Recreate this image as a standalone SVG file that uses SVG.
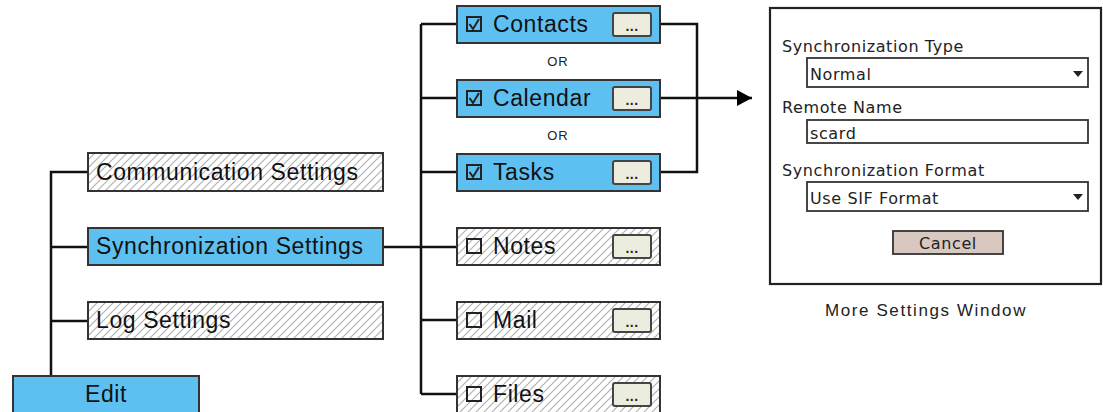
<svg xmlns="http://www.w3.org/2000/svg" width="1103" height="412" viewBox="0 0 1103 412">
<defs>
<pattern id="hatch" patternUnits="userSpaceOnUse" width="8" height="8">
<rect width="8" height="8" fill="#fff"/>
<path d="M-2,2 L2,-2 M0,8 L8,0 M6,10 L10,6" stroke="#b2b2b2" stroke-width="1.2"/>
</pattern>
<marker id="arrow" markerWidth="16" markerHeight="16" refX="15" refY="8" orient="auto" markerUnits="userSpaceOnUse" viewBox="0 0 16 16">
<path d="M0,0 L15,8 L0,16 Z" fill="#000"/>
</marker>
</defs>
<style>
.blue{fill:#5ec0f0;stroke:#333;stroke-width:2}
.hat{fill:url(#hatch);stroke:#333;stroke-width:2}
.lbl{font-family:"Liberation Sans",Arial,sans-serif;font-size:23px;letter-spacing:0.6px;fill:#111}
.btn{fill:#ececdf;stroke:#444;stroke-width:2}
.dots{font-family:"Liberation Sans",Arial,sans-serif;font-size:14px;font-weight:bold;letter-spacing:0.5px;fill:#222;text-anchor:middle}
.cb{fill:none;stroke:#222;stroke-width:2}
.chk{fill:none;stroke:#222;stroke-width:2}
.conn{fill:none;stroke:#111;stroke-width:2.5}
.or{font-family:"Liberation Sans",Arial,sans-serif;font-size:13px;letter-spacing:1px;fill:#222;text-anchor:middle}
.win{font-family:"DejaVu Sans",Verdana,sans-serif;font-size:16px;letter-spacing:0.6px;fill:#222}
.fld{fill:#fff;stroke:#333;stroke-width:1.8}
.cap{font-family:"Liberation Sans",Arial,sans-serif;font-size:17px;letter-spacing:1.6px;fill:#222;text-anchor:middle}
</style>
<g id="connectors">
<path class="conn" d="M51,376 V172 H88 M51,247 H88 M51,321 H88"/>
<path class="conn" d="M383,247 H421 M421,24 V394 M421,24 H457 M421,98 H457 M421,172 H457 M421,247 H457 M421,320 H457 M421,394 H457"/>
<path class="conn" d="M651,24 H697 V172 H651"/>
<path class="conn" d="M651,98 H752" marker-end="url(#arrow)"/>
</g>
<g id="comm"><rect class="hat" x="88" y="153" width="295" height="38"/><text class="lbl" x="96" y="180">Communication Settings</text></g>
<g id="sync"><rect class="blue" x="88" y="228" width="295" height="37"/><text class="lbl" x="96" y="254">Synchronization Settings</text></g>
<g id="log"><rect class="hat" x="88" y="302" width="295" height="37"/><text class="lbl" x="96" y="328">Log Settings</text></g>
<g id="edit"><rect class="blue" x="13" y="376" width="186" height="50"/><text class="lbl" x="106" y="402" text-anchor="middle">Edit</text></g>
<g id="contacts"><rect class="blue" x="457" y="6" width="203" height="37"/><rect class="cb" x="467" y="17" width="14" height="14"/><path class="chk" d="M469.5,24 L473,29 L479,19"/><text class="lbl" x="493" y="32">Contacts</text><rect class="btn" x="613" y="13" width="38" height="23" rx="2"/><text class="dots" x="632" y="31">...</text></g>
<text class="or" x="558" y="66">OR</text>
<g id="calendar"><rect class="blue" x="457" y="80" width="203" height="37"/><rect class="cb" x="467" y="91" width="14" height="14"/><path class="chk" d="M469.5,98 L473,103 L479,93"/><text class="lbl" x="493" y="106">Calendar</text><rect class="btn" x="613" y="87" width="38" height="23" rx="2"/><text class="dots" x="632" y="105">...</text></g>
<text class="or" x="558" y="140">OR</text>
<g id="tasks"><rect class="blue" x="457" y="154" width="203" height="37"/><rect class="cb" x="467" y="165" width="14" height="14"/><path class="chk" d="M469.5,172 L473,177 L479,167"/><text class="lbl" x="493" y="180">Tasks</text><rect class="btn" x="613" y="161" width="38" height="23" rx="2"/><text class="dots" x="632" y="179">...</text></g>
<g id="notes"><rect class="hat" x="457" y="228" width="203" height="37"/><rect class="cb" x="467" y="239" width="14" height="14"/><text class="lbl" x="493" y="254">Notes</text><rect class="btn" x="613" y="235" width="38" height="23" rx="2"/><text class="dots" x="632" y="253">...</text></g>
<g id="mail"><rect class="hat" x="457" y="302" width="203" height="37"/><rect class="cb" x="467" y="313" width="14" height="14"/><text class="lbl" x="493" y="328">Mail</text><rect class="btn" x="613" y="309" width="38" height="23" rx="2"/><text class="dots" x="632" y="327">...</text></g>
<g id="files"><rect class="hat" x="457" y="376" width="203" height="50"/><rect class="cb" x="467" y="387" width="14" height="14"/><text class="lbl" x="493" y="402">Files</text><rect class="btn" x="613" y="383" width="38" height="23" rx="2"/><text class="dots" x="632" y="401">...</text></g>
<g id="window">
<rect x="770" y="8" width="331" height="276" fill="#fff" stroke="#222" stroke-width="2.2"/>
<text class="win" x="782" y="52">Synchronization Type</text>
<rect class="fld" x="807" y="58" width="281" height="29"/>
<text class="win" x="810" y="80">Normal</text>
<path d="M1073,71 L1083,71 L1078,77 Z" fill="#222"/>
<text class="win" x="782" y="113">Remote Name</text>
<rect class="fld" x="807" y="120" width="281" height="23"/>
<text class="win" x="810" y="139">scard</text>
<text class="win" x="782" y="176">Synchronization Format</text>
<rect class="fld" x="807" y="182" width="281" height="29"/>
<text class="win" x="810" y="204">Use SIF Format</text>
<path d="M1073,194 L1083,194 L1078,200 Z" fill="#222"/>
<rect x="893" y="231" width="110" height="23" fill="#d8c8c0" stroke="#333" stroke-width="1.8"/>
<text class="win" x="948" y="249" text-anchor="middle">Cancel</text>
</g>
<text class="cap" x="926" y="316">More Settings Window</text>
</svg>
